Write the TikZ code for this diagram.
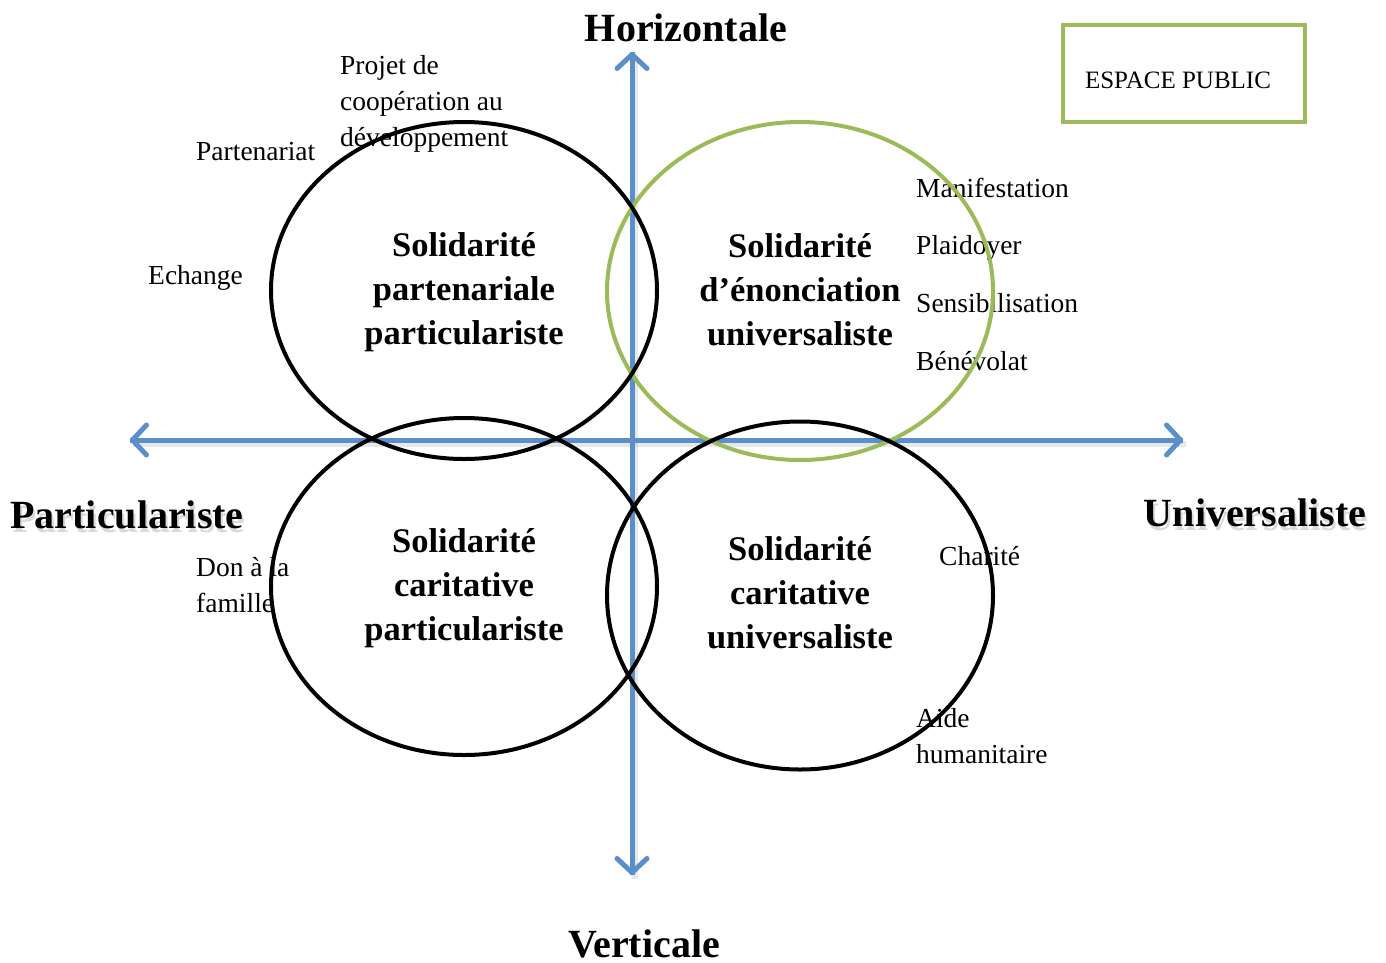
\documentclass[tikz,border=0pt]{standalone}
\usepackage{fontspec}
\setmainfont{Liberation Serif}
\usetikzlibrary{arrows.meta}
\definecolor{axisblue}{HTML}{5B8FC9}
\definecolor{officegreen}{HTML}{9BBB59}
\tikzset{
  axis/.style={draw=axisblue, line width=5pt, -{Straight Barb[length=14pt,width=30pt,round]}},
  axisshadow/.style={draw=black!30, opacity=0.3, line width=6pt},
  ring/.style={draw=black, line width=4pt},
  greenring/.style={draw=officegreen, line width=4pt},
  small/.style={inner sep=0pt, anchor=base west, font=\fontsize{27.5}{36}\selectfont, align=left},
  title/.style={inner sep=0pt, align=center, font=\bfseries\fontsize{34.5}{44}\selectfont},
  axlabel/.style={inner sep=0pt, font=\bfseries\fontsize{40}{48}\selectfont},
  shadowlabel/.style={axlabel, text=black!25, opacity=0.6},
}
\begin{document}
\begin{tikzpicture}[x=1pt,y=-1pt]
\useasboundingbox (0,0) rectangle (1386,962);
% axes
\coordinate (vtop) at (632,52);
\coordinate (vbot) at (632,875);
\coordinate (hl) at (130,440);
\coordinate (hr) at (1183,440);
\draw[axisshadow] ([xshift=3pt,yshift=-4pt]hl) -- ([xshift=3pt,yshift=-4pt]hr);
\draw[axisshadow] ([xshift=3pt,yshift=-4pt]vtop) -- ([xshift=3pt,yshift=-4pt]vbot);
\draw[axis] (vbot) -- (vtop);
\draw[axis] (vtop) -- (vbot);
\draw[axis] (hr) -- (hl);
\draw[axis] (hl) -- (hr);
% axis labels
\node[axlabel] (hz) at (686,28) {Horizontale};
\node[axlabel] (vt) at (644,944) {Verticale};
\node[shadowlabel] (pas) at (129,518.5) {Particulariste};
\node[axlabel] (pa) at (127,515) {Particulariste};
\node[shadowlabel] (uns) at (1257,516.5) {Universaliste};
\node[axlabel] (un) at (1255,513) {Universaliste};
% small labels
\node[small] (projet) at (340,146) {Projet de\\coopération au\\développement};
\node[small] (part) at (196,160) {Partenariat};
\node[small] (ech) at (148,284) {Echange};
\node[small] (mani) at (916,197) {Manifestation};
\node[small] (plai) at (916,254) {Plaidoyer};
\node[small] (sens) at (916,312) {Sensibilisation};
\node[small] (bene) at (916,370) {Bénévolat};
\node[small] (don) at (196,612) {Don à la\\famille};
\node[small] (char) at (939,565) {Charité};
\node[small] (aide) at (916,763) {Aide\\humanitaire};
% espace public
\node[draw=officegreen, line width=4pt, minimum width=242pt, minimum height=97pt, inner sep=0pt] (esp) at (1184,73.5) {};
\node[inner sep=0pt, font=\fontsize{25}{30}\selectfont] (esptext) at (1178,80) {ESPACE PUBLIC};
% circles
\draw[greenring] (800,291) ellipse [x radius=193, y radius=169];
\draw[ring] (464,290.5) ellipse [x radius=193, y radius=168.5];
\draw[ring] (464,586.5) ellipse [x radius=193, y radius=168.5];
\draw[ring] (800,595.5) ellipse [x radius=193, y radius=174];
% titles
\node[title] (t1) at (464,292.5) {Solidarité\\partenariale\\particulariste};
\node[title] (t2) at (800,290) {Solidarité\\d’énonciation\\universaliste};
\node[title] (t3) at (464,588.5) {Solidarité\\caritative\\particulariste};
\node[title] (t4) at (800,593) {Solidarité\\caritative\\universaliste};
\end{tikzpicture}
\end{document}
